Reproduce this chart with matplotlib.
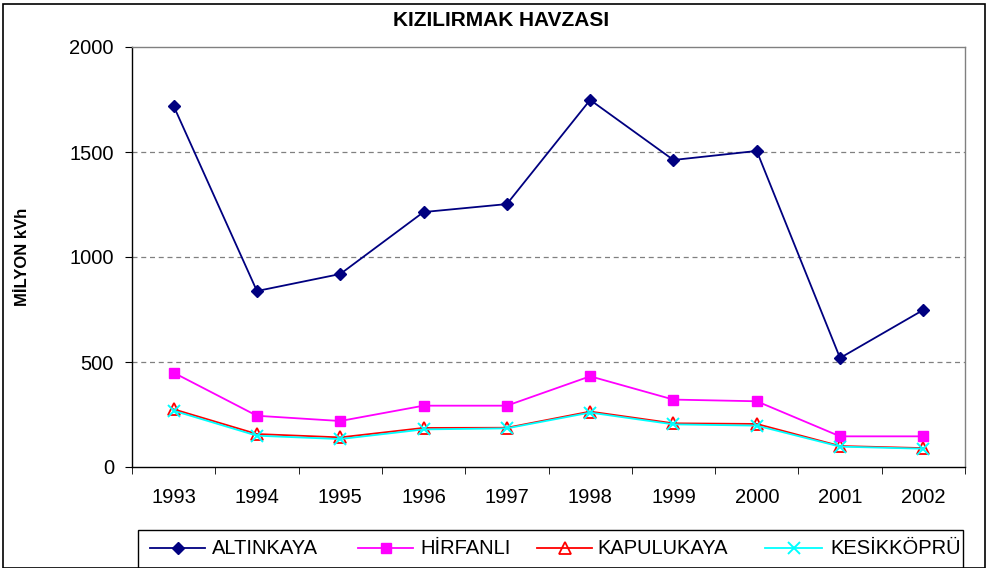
import matplotlib
matplotlib.use("Agg")
import matplotlib.pyplot as plt
from matplotlib.patches import Rectangle
from matplotlib.lines import Line2D

plt.rcParams['font.family'] = ['Liberation Sans', 'DejaVu Sans']

years = ['1993', '1994', '1995', '1996', '1997', '1998', '1999', '2000', '2001', '2002']
altinkaya = [1719, 838, 919, 1214, 1252, 1748, 1462, 1505, 519, 748]
hirfanli = [449, 244, 219, 292, 292, 432, 321, 313, 146, 146]
kapulukaya = [275, 157, 141, 186, 187, 264, 208, 205, 100, 90]
kesikkopru = [268, 149, 133, 179, 184, 259, 203, 197, 97, 87]

series_names = ['ALTINKAYA', 'HİRFANLI', 'KAPULUKAYA', 'KESİKKÖPRÜ']
y_ticks = [0, 500, 1000, 1500, 2000]

W, H = 988, 568
fig = plt.figure(figsize=(W / 100, H / 100), dpi=100)
fig.patch.set_facecolor('white')


def fx(px):
    return px / W


def fy(py):
    return 1 - py / H


# outer chart border
fig.patches.append(Rectangle((fx(3), 0), (W - 6) / W, (H - 4) / H, transform=fig.transFigure,
                             fill=False, edgecolor='black', linewidth=1.2, zorder=0))

ax = fig.add_axes([fx(132), fy(467), (965 - 132) / W, (467 - 47) / H])
x = list(range(len(years)))

styles = [
    dict(color='#000080', marker='D', markersize=6.5, linewidth=1.3),
    dict(color='#FF00FF', marker='s', markersize=7, linewidth=1.3),
    dict(color='#FF0000', marker='^', markersize=8, markerfacecolor='none',
         markeredgecolor='#FF0000', markeredgewidth=1.3, linewidth=1.3),
    dict(color='#00FFFF', marker='x', markersize=8, markeredgewidth=1.4, linewidth=1.3),
]
series = [altinkaya, hirfanli, kapulukaya, kesikkopru]
zorders = [5, 4, 3, 4]
for vals, st, z in zip(series, styles, zorders):
    ax.plot(x, vals, zorder=z, **st)

ax.set_xlim(-0.5, len(years) - 0.5)
ax.set_ylim(0, 2000)
ax.set_yticks(y_ticks)
ax.set_yticklabels([str(v) for v in y_ticks], fontsize=14.5)
ax.set_xticks(x)
ax.set_xticklabels(years, fontsize=14.5)
ax.tick_params(axis='x', length=0, pad=15)
ax.set_xticks([i + 0.5 for i in range(-1, len(years))], minor=True)
ax.tick_params(axis='x', which='minor', length=5, direction='out', color='black')
ax.tick_params(axis='y', length=5, direction='out', color='black', pad=8)

for v in y_ticks[1:-1]:
    ax.axhline(v, color='#808080', linestyle=(0, (4, 3)), linewidth=0.9, zorder=1)

for side in ['top', 'right']:
    ax.spines[side].set_color('#808080')
    ax.spines[side].set_linewidth(1.0)
for side in ['left', 'bottom']:
    ax.spines[side].set_color('black')
    ax.spines[side].set_linewidth(1.0)

ax.set_ylabel('MİLYON kVh', fontsize=12, fontweight='bold', labelpad=0)
ax.yaxis.set_label_coords(-(132 - 30) / (965 - 132), 0.5)

fig.text(fx(501), fy(21), 'KIZILIRMAK HAVZASI', ha='center', va='center',
         fontsize=15, fontweight='bold')

# legend frame
fig.patches.append(Rectangle((fx(138), -0.02), (963 - 138) / W, (568 - 530) / H + 0.02,
                             transform=fig.transFigure, fill=False, edgecolor='black',
                             linewidth=1.0, zorder=0))
handle_px = [(150, 205), (358, 413), (537, 592), (765, 822)]
text_px = [212, 420, 597, 830]
ly = fy(548)
for name, st, (h0, h1), tx in zip(series_names, styles, handle_px, text_px):
    fig.add_artist(Line2D([fx(h0), fx(h1)], [ly, ly], transform=fig.transFigure,
                          color=st['color'], linewidth=st['linewidth']))
    mk = {k: v for k, v in st.items() if k.startswith('marker')}
    fig.add_artist(Line2D([fx((h0 + h1) / 2)], [ly], transform=fig.transFigure,
                          color=st['color'], linestyle='none', **mk))
    fig.text(fx(tx), ly, name, ha='left', va='center', fontsize=14.5)

fig.savefig('out.png', dpi=100)
